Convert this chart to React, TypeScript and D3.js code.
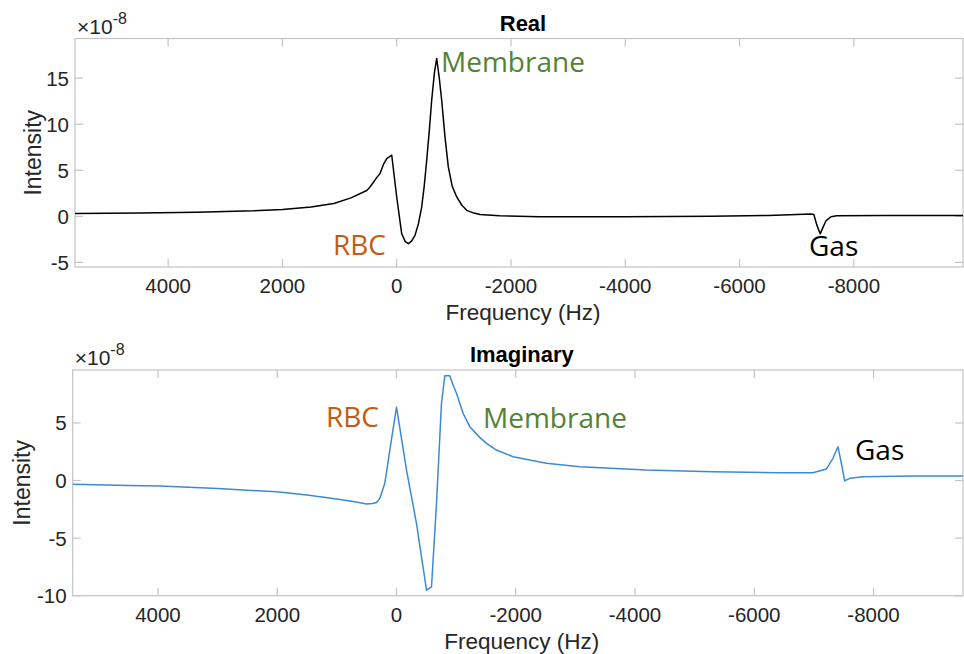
import React from "react";
import * as d3 from "d3";

// ---- Data (frequency in Hz, intensity in units of 1e-8) ----
const realFreq = [5630, 4500, 3500, 2500, 2000, 1500, 1100, 800, 525, 467, 350, 292, 234, 175, 130, 87, 0, -87, -150, -203, -260, -320, -380, -437, -480, -525, -570, -612, -660, -700, -745, -787, -845, -903, -970, -1050, -1140, -1225, -1350, -1457, -1800, -2500, -4000, -5500, -6500, -7250, -7300, -7350, -7410, -7460, -7510, -7600, -7700, -8500, -9910];
const realVal = [0.3, 0.35, 0.45, 0.6, 0.75, 1.0, 1.4, 2.0, 2.8, 3.18, 4.2, 4.64, 5.6, 6.27, 6.45, 6.63, 2.1, -1.88, -2.75, -2.97, -2.7, -2.07, -0.8, 1.01, 3.2, 6.09, 9.3, 12.6, 15.6, 17.14, 15.0, 12.6, 8.6, 5.36, 3.3, 2.1, 1.2, 0.65, 0.35, 0.2, 0.05, -0.05, -0.05, 0.0, 0.1, 0.25, 0.2, -0.9, -1.9, -1.2, -0.5, -0.05, 0.05, 0.1, 0.1];

const imagFreq = [5430, 4500, 3968, 3000, 2012, 1500, 1063, 700, 503, 400, 335, 280, 196, 112, 0, -168, -335, -503, -587, -671, -754, -810, -893, -950, -1006, -1117, -1229, -1396, -1509, -1676, -1955, -2514, -3073, -4191, -5308, -6426, -6984, -7208, -7320, -7403, -7460, -7516, -7600, -7822, -8660, -9500];
const imagVal = [-0.33, -0.42, -0.48, -0.7, -0.97, -1.25, -1.55, -1.85, -2.04, -2.0, -1.9, -1.55, -0.24, 2.65, 6.37, 0.91, -3.72, -9.52, -9.23, -1.98, 6.7, 9.09, 9.09, 8.3, 7.58, 5.84, 4.68, 3.75, 3.23, 2.65, 2.07, 1.5, 1.2, 0.91, 0.77, 0.68, 0.68, 1.0, 1.93, 2.94, 1.5, -0.02, 0.19, 0.33, 0.39, 0.39];

const xTicks = [4000, 2000, 0, -2000, -4000, -6000, -8000];
const realYTicks = [-5, 0, 5, 10, 15];
const imagYTicks = [-10, -5, 0, 5];

type Ann = { text: string; color: string; x: number; y: number };

const realAnns: Ann[] = [
  { text: "Membrane", color: "#548235", x: 441, y: 72 },
  { text: "RBC", color: "#C55A11", x: 333, y: 255 },
  { text: "Gas", color: "#000000", x: 809, y: 256 },
];
const imagAnns: Ann[] = [
  { text: "RBC", color: "#C55A11", x: 326, y: 427 },
  { text: "Membrane", color: "#548235", x: 483, y: 428 },
  { text: "Gas", color: "#000000", x: 855, y: 460 },
];

const AX = "#c4c4c4";
const TXT = "#262626";
const FONT = "'Liberation Sans', Arial, Helvetica, sans-serif";
const ANNFONT = "'Open Sans', Lato, sans-serif";

type PanelProps = {
  left: number; right: number; top: number; bottom: number;
  xDomain: [number, number]; yDomain: [number, number];
  yTicks: number[]; freq: number[]; vals: number[];
  color: string; title: string; anns: Ann[]; clipId: string; ylabOffset: number;
};

function Panel(p: PanelProps) {
  const x = d3.scaleLinear().domain(p.xDomain).range([p.left, p.right]);
  const y = d3.scaleLinear().domain(p.yDomain).range([p.bottom, p.top]);
  const pts: [number, number][] = p.freq.map((f, i) => [f, p.vals[i]]);
  const line = d3.line<[number, number]>().x(d => x(d[0])).y(d => y(d[1]));
  const tl = 8;
  const cx = (p.left + p.right) / 2;
  return (
    <g>
      <defs>
        <clipPath id={p.clipId}>
          <rect x={p.left} y={p.top} width={p.right - p.left} height={p.bottom - p.top} />
        </clipPath>
      </defs>
      <rect x={p.left} y={p.top} width={p.right - p.left} height={p.bottom - p.top} fill="white" stroke={AX} strokeWidth={1.2} />
      {xTicks.map(t => (
        <g key={"x" + t}>
          <line x1={x(t)} x2={x(t)} y1={p.bottom} y2={p.bottom - tl} stroke={AX} strokeWidth={1.2} />
          <line x1={x(t)} x2={x(t)} y1={p.top} y2={p.top + tl} stroke={AX} strokeWidth={1.2} />
          <text x={x(t)} y={p.bottom + 26} textAnchor="middle" fontSize={20.5} fill={TXT} fontFamily={FONT}>{t}</text>
        </g>
      ))}
      {p.yTicks.map(t => (
        <g key={"y" + t}>
          <line x1={p.left} x2={p.left + tl} y1={y(t)} y2={y(t)} stroke={AX} strokeWidth={1.2} />
          <line x1={p.right} x2={p.right - tl} y1={y(t)} y2={y(t)} stroke={AX} strokeWidth={1.2} />
          <text x={p.left - 6} y={y(t) + 7.5} textAnchor="end" fontSize={20.5} fill={TXT} fontFamily={FONT}>{t}</text>
        </g>
      ))}
      <path d={line(pts) || ""} fill="none" stroke={p.color} strokeWidth={1.5} clipPath={`url(#${p.clipId})`} strokeLinejoin="round" />
      <text x={p.left + 2} y={p.top - 5} fontSize={21} fill={TXT} fontFamily={FONT}>
        <tspan>×10</tspan>
        <tspan dy={-10} fontSize={16}>-8</tspan>
      </text>
      <text x={cx + 4} y={p.top - 8} textAnchor="middle" fontSize={22} fontWeight="bold" fill="#000" fontFamily={FONT}>{p.title}</text>
      <text x={cx + 4} y={p.bottom + 53} textAnchor="middle" fontSize={22.5} fill={TXT} fontFamily={FONT}>Frequency (Hz)</text>
      <text transform={`translate(${p.left - p.ylabOffset},${(p.top + p.bottom) / 2}) rotate(-90)`} textAnchor="middle" fontSize={23} fill={TXT} fontFamily={FONT}>Intensity</text>
      {p.anns.map(a => (
        <text key={a.text} x={a.x} y={a.y} fontSize={28} fill={a.color} fontFamily={ANNFONT}>{a.text}</text>
      ))}
    </g>
  );
}

export default function App() {
  return (
    <svg width={964} height={654} style={{ position: "absolute", left: 0, top: 0, background: "white" }}>
      <rect width={964} height={654} fill="white" />
      <Panel left={75} right={963} top={38.5} bottom={267} xDomain={[5630, -9910]} yDomain={[-5.5, 19.3]}
        yTicks={realYTicks} freq={realFreq} vals={realVal} color="#000000" title="Real" anns={realAnns} clipId="c1" ylabOffset={34} />
      <Panel left={72.7} right={963} top={370} bottom={595.7} xDomain={[5430, -9500]} yDomain={[-10, 9.6]}
        yTicks={imagYTicks} freq={imagFreq} vals={imagVal} color="#3b8ad6" title="Imaginary" anns={imagAnns} clipId="c2" ylabOffset={43} />
    </svg>
  );
}
